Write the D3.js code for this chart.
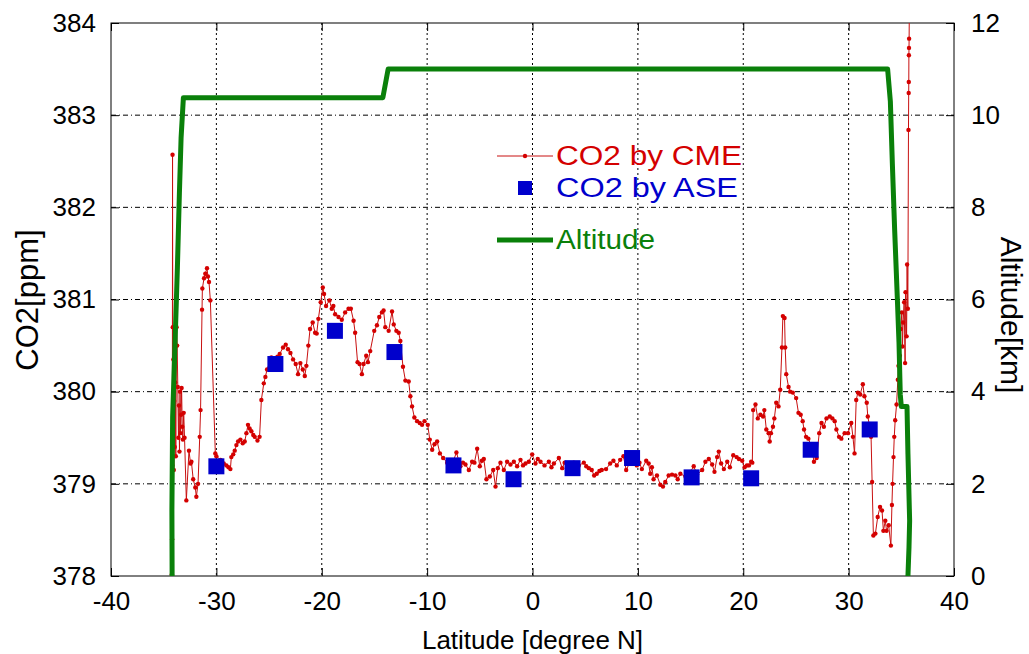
<!DOCTYPE html>
<html><head><meta charset="utf-8">
<script src="https://cdn.jsdelivr.net/npm/d3@7"></script>
<style>body{margin:0;background:#fff}svg{display:block}text{font-family:"Liberation Sans",Arial,sans-serif}</style>
</head><body>
<script>
// ---- data ----
const xTicks = [-40,-30,-20,-10,0,10,20,30,40];
const co2Ticks = [378,379,380,381,382,383,384];
const altTicks = [0,2,4,6,8,10,12];

const cmeLat = [-34.22,-34.2,-34.18,-34.16,-34.14,-34.12,-34.08,-34.04,-34.0,-33.95,-33.9,-33.85,-33.78,-33.72,-33.66,-33.6,-33.55,-33.5,-33.45,-33.4,-33.35,-33.3,-33.24,-33.18,-33.1,-33.02,-32.85,-32.6,-32.45,-32.37,-32.2,-32.0,-31.9,-31.74,-31.58,-31.5,-31.36,-31.33,-31.17,-31.05,-30.89,-30.8,-30.7,-30.57,-30.1,-30.0,-29.6,-29.3,-29.05,-28.85,-28.67,-28.58,-28.4,-28.26,-28.1,-27.94,-27.72,-27.5,-27.31,-27.15,-27.0,-26.85,-26.68,-26.5,-26.36,-26.1,-25.9,-25.73,-25.5,-25.35,-25.19,-24.78,-24.5,-24.2,-23.99,-23.67,-23.42,-23.2,-22.97,-22.72,-22.47,-22.25,-22.03,-21.8,-21.61,-21.46,-21.27,-21.11,-20.86,-20.63,-20.48,-20.32,-20.1,-19.9,-19.78,-19.59,-19.27,-19.05,-18.9,-18.73,-18.41,-18.1,-17.78,-17.46,-17.24,-16.98,-16.83,-16.6,-16.41,-16.19,-16.03,-15.78,-15.62,-15.4,-15.02,-14.76,-14.54,-14.29,-14.13,-13.97,-13.65,-13.33,-13.17,-12.92,-12.7,-12.54,-12.29,-12.06,-11.75,-11.59,-11.43,-11.21,-10.95,-10.7,-10.48,-10.25,-9.94,-9.75,-9.52,-9.3,-9.05,-8.79,-8.48,-8.1,-7.63,-7.22,-6.84,-6.6,-6.36,-6.04,-5.73,-5.51,-5.25,-5.0,-4.8,-4.62,-4.37,-4.05,-3.73,-3.51,-3.29,-3.04,-2.72,-2.41,-2.09,-1.77,-1.46,-1.14,-0.9,-0.66,-0.35,-0.03,0.28,0.5,0.76,1.14,1.55,1.8,2.03,2.5,2.82,3.05,3.29,3.6,3.92,4.15,4.4,4.87,5.1,5.35,5.62,5.85,6.1,6.35,6.57,6.98,7.37,7.68,8.0,8.32,8.63,8.89,9.27,9.6,9.9,10.15,10.38,10.79,11.02,11.17,11.33,11.49,11.81,12.13,12.38,12.6,12.92,13.24,13.56,13.78,14.03,14.51,14.98,15.3,15.62,16.1,16.41,16.73,17.05,17.27,17.52,17.68,17.9,18.16,18.48,18.73,19.05,19.37,19.59,19.9,20.13,20.35,20.54,20.75,20.86,20.94,21.16,21.38,21.63,21.88,22.0,22.19,22.41,22.51,22.63,22.82,22.95,23.13,23.35,23.51,23.67,23.76,23.92,23.98,24.08,24.3,24.45,24.7,25.02,25.24,25.45,25.64,25.77,25.96,26.18,26.49,26.71,26.96,27.21,27.43,27.65,27.9,28.21,28.46,28.68,28.84,29.09,29.31,29.62,29.94,30.25,30.41,30.56,30.72,30.88,31.1,31.35,31.5,31.72,31.82,32.0,32.13,32.23,32.35,32.54,32.76,32.98,33.17,33.3,33.48,33.6,33.8,34.01,34.11,34.17,34.26,34.33,34.42,34.55,34.67,34.73,34.86,34.95,35.05,35.11,35.17,35.27,35.36,35.4,35.5,35.55,35.62,35.68,35.7,35.71,35.72,35.73,35.74,35.78];
const cmeCO2 = [378.02,378.4,379.2,382.57,380.7,379.6,380.35,379.15,379.9,379.4,380.1,379.3,380.7,380.5,380.05,379.5,379.85,379.35,380.0,379.55,379.75,380.04,379.62,379.48,379.77,379.5,378.82,379.36,379.22,379.24,379.05,378.96,378.86,379.0,379.51,379.8,380.89,381.12,381.23,381.28,381.34,381.25,381.19,380.99,379.33,379.3,379.26,379.22,379.2,379.18,379.16,379.29,379.32,379.36,379.42,379.46,379.48,379.44,379.46,379.55,379.64,379.6,379.57,379.53,379.51,379.47,379.51,379.91,380.09,380.16,380.24,380.37,380.33,380.38,380.41,380.48,380.51,380.46,380.42,380.35,380.3,380.19,380.31,380.24,380.17,380.28,380.5,380.68,380.75,380.64,380.63,380.79,380.97,381.13,381.06,380.93,380.99,380.9,380.93,380.84,380.81,380.78,380.86,380.9,380.9,380.77,380.64,380.32,380.3,380.19,380.3,380.39,380.32,380.44,380.66,380.72,380.81,380.86,380.88,380.7,380.66,380.87,380.73,380.66,380.64,380.55,380.27,380.12,380.11,379.95,379.84,379.72,379.68,379.66,379.64,379.68,379.64,379.48,379.37,379.43,379.46,379.33,379.28,379.23,379.21,379.34,379.19,379.23,379.21,379.15,379.24,379.23,379.38,379.19,379.25,379.27,379.05,379.08,379.15,378.97,379.17,379.23,379.15,379.24,379.21,379.24,379.19,379.26,379.2,379.22,379.24,379.32,379.22,379.27,379.24,379.2,379.24,379.18,379.22,379.28,379.17,379.23,379.21,379.18,379.23,379.17,379.2,379.23,379.19,379.17,379.15,379.09,379.11,379.14,379.15,379.16,379.22,379.25,379.2,379.26,379.3,379.15,379.24,379.22,379.2,379.23,379.16,379.25,379.22,379.11,379.18,379.05,379.09,378.99,378.97,379.02,379.09,379.1,379.09,379.05,379.11,379.08,379.13,379.19,379.1,379.15,379.24,379.27,379.21,379.13,379.29,379.35,379.22,379.16,379.24,379.18,379.31,379.29,379.27,379.25,379.18,379.2,379.2,379.24,379.23,379.8,379.86,379.71,379.75,379.73,379.8,379.59,379.55,379.46,379.55,379.62,379.71,379.88,379.84,380.02,380.48,380.82,380.8,380.48,380.19,380.05,380.0,379.99,379.93,379.77,379.75,379.68,379.59,379.51,379.49,379.4,379.24,379.28,379.55,379.66,379.62,379.71,379.73,379.71,379.68,379.59,379.51,379.49,379.55,379.55,379.66,379.51,379.33,379.91,379.99,379.97,380.08,379.95,379.88,379.73,379.62,379.51,379.02,378.44,378.46,378.64,378.75,378.71,378.49,378.6,378.49,378.55,378.33,378.77,379.0,379.29,379.51,379.69,379.86,380.13,380.28,380.39,380.68,380.86,380.49,380.75,380.97,380.31,381.08,380.6,381.38,380.9,382.84,383.24,383.36,383.65,383.73,383.83,384.4];

const aseLat = [-30.0,-24.4,-18.75,-13.1,-7.5,-1.8,3.8,9.45,15.1,20.75,26.4,32.0];
const aseCO2 = [379.19,380.30,380.66,380.43,379.20,379.05,379.17,379.28,379.07,379.06,379.37,379.59];

const altLat = [-34.2,-34.22,-34.15,-33.92,-33.7,-33.51,-33.35,-33.13,-14.2,-13.7,33.7,33.96,34.15,34.37,34.62,34.78,34.9,35.0,35.54,35.63,35.79,35.73,35.63];
const altKm  = [0,1.44,3.46,5.07,6.69,8.3,9.5,10.38,10.38,11.0,11.0,10.3,8.95,7.5,6.04,5.07,3.94,3.68,3.68,2.65,1.2,0.63,0];

const legendLabels = ["CO2 by CME","CO2 by ASE","Altitude"];

// ---- layout ----
const W = 1029, H = 654;
const L = 111, R = 954, T = 23, B = 576;
const RED = "#d40000", BLUE = "#0000cc", GREEN = "#0a800a";

const svg = d3.select("body").append("svg").attr("width", W).attr("height", H);
const x = d3.scaleLinear().domain([-40, 40]).range([L, R]);
const y = d3.scaleLinear().domain([378, 384]).range([B, T]);
const y2 = d3.scaleLinear().domain([0, 12]).range([B, T]);

svg.append("defs").append("clipPath").attr("id","clip")
  .append("rect").attr("x",L).attr("y",T).attr("width",R-L).attr("height",B-T);

// grid
const grid = svg.append("g");
grid.selectAll(".vg").data(xTicks.slice(1,-1)).join("line")
  .attr("x1", d=>x(d)).attr("x2", d=>x(d)).attr("y1", T).attr("y2", B)
  .attr("stroke","#000").attr("stroke-width",1).attr("stroke-dasharray","2,3");
grid.selectAll(".hg").data(co2Ticks.slice(1,-1)).join("line")
  .attr("x1", L).attr("x2", R).attr("y1", d=>y(d)).attr("y2", d=>y(d))
  .attr("stroke","#000").attr("stroke-width",1).attr("stroke-dasharray","5,3,1,3");

// axes
const fs = 26;
const fmt = d => String(d);
const axL = svg.append("g").attr("transform",`translate(${L},0)`)
  .call(d3.axisLeft(y).tickValues(co2Ticks).tickSize(-8).tickPadding(15).tickFormat(fmt));
const axR = svg.append("g").attr("transform",`translate(${R},0)`)
  .call(d3.axisRight(y2).tickValues(altTicks).tickSize(-8).tickPadding(17).tickFormat(fmt));
const axB = svg.append("g").attr("transform",`translate(0,${B})`)
  .call(d3.axisBottom(x).tickValues(xTicks).tickSize(-8).tickPadding(16).tickFormat(fmt));
const axT = svg.append("g").attr("transform",`translate(0,${T})`)
  .call(d3.axisTop(x).tickValues(xTicks).tickSize(-8).tickFormat(""));
[axL,axR,axB,axT].forEach(a=>{
  a.select(".domain").remove();
  a.selectAll("line").attr("stroke","#000");
  a.selectAll("text").attr("font-size",fs).attr("fill","#000")
    .attr("font-family",'"Liberation Sans",Arial,sans-serif');
});
svg.append("rect").attr("x",L).attr("y",T).attr("width",R-L).attr("height",B-T)
  .attr("fill","none").attr("stroke","#000").attr("stroke-width",1);

// titles
svg.append("text").attr("x",(L+R)/2).attr("y",649).attr("text-anchor","middle")
  .attr("font-size",fs).text("Latitude [degree N]");
svg.append("text").attr("transform",`translate(38,300) rotate(-90)`).attr("text-anchor","middle")
  .attr("font-size",31).text("CO2[ppm]");
svg.append("text").attr("transform",`translate(1001,315) rotate(90)`).attr("text-anchor","middle")
  .attr("font-size",30).text("Altitude[km]");

// data
const plot = svg.append("g").attr("clip-path","url(#clip)");
const cme = cmeLat.map((d,i)=>({lat:d, v:cmeCO2[i]}));
plot.append("path").datum(cme)
  .attr("d", d3.line().x(d=>x(d.lat)).y(d=>y(d.v)))
  .attr("fill","none").attr("stroke","#c81010").attr("stroke-width",1);
plot.selectAll(".cm").data(cme).join("circle")
  .attr("cx", d=>x(d.lat)).attr("cy", d=>y(d.v)).attr("r",2.2).attr("fill",RED);

const alt = altLat.map((d,i)=>({lat:d, v:altKm[i]}));
plot.append("path").datum(alt)
  .attr("d", d3.line().x(d=>x(d.lat)).y(d=>y2(d.v)))
  .attr("fill","none").attr("stroke",GREEN).attr("stroke-width",5).attr("stroke-linejoin","round");

const ase = aseLat.map((d,i)=>({lat:d, v:aseCO2[i]}));
const sq = 16;
plot.selectAll(".as").data(ase).join("rect")
  .attr("x", d=>x(d.lat)-sq/2).attr("y", d=>y(d.v)-sq/2).attr("width",sq).attr("height",sq)
  .attr("fill",BLUE);

// legend
const lg = svg.append("g");
const lx0 = 497, lx1 = 553, tx = 556;
const ly = [156, 188, 240];
const lw = [186, 182, 99];
lg.append("line").attr("x1",lx0).attr("x2",lx1).attr("y1",ly[0]).attr("y2",ly[0]).attr("stroke","#c81010").attr("stroke-width",1);
lg.append("circle").attr("cx",(lx0+lx1)/2).attr("cy",ly[0]).attr("r",2.2).attr("fill",RED);
lg.append("rect").attr("x",(lx0+lx1)/2-7).attr("y",ly[1]-7).attr("width",14).attr("height",14).attr("fill",BLUE);
lg.append("line").attr("x1",lx0).attr("x2",lx1).attr("y1",ly[2]).attr("y2",ly[2]).attr("stroke",GREEN).attr("stroke-width",5);
const lcol = [RED, BLUE, GREEN];
lg.selectAll(".lt").data(legendLabels).join("text")
  .attr("x",tx).attr("y",(d,i)=>ly[i]).attr("dy","0.35em")
  .attr("font-size",27).attr("textLength",(d,i)=>lw[i]).attr("lengthAdjust","spacingAndGlyphs")
  .attr("fill",(d,i)=>lcol[i]).text(d=>d);
</script>
</body></html>
